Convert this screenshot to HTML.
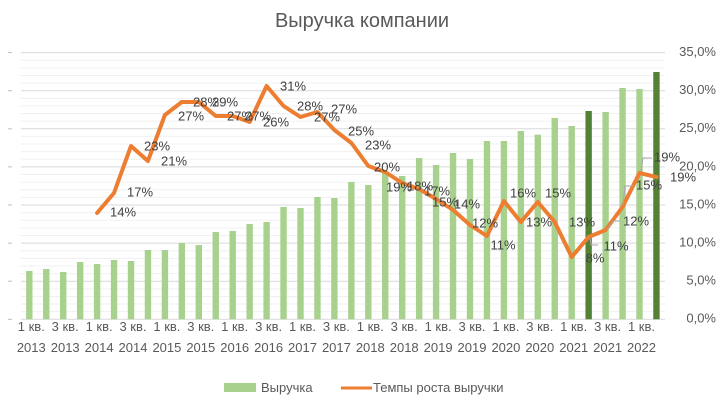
<!DOCTYPE html>
<html><head><meta charset="utf-8"><style>
html,body{margin:0;padding:0;background:#fff;}
svg{display:block;font-family:"Liberation Sans",sans-serif;}
</style></head><body>
<svg width="724" height="406" viewBox="0 0 724 406" xmlns="http://www.w3.org/2000/svg">
<rect width="724" height="406" fill="#fff"/>
<text x="362" y="27" text-anchor="middle" font-size="20" fill="#595959">Выручка компании</text>
<g id="grid"></g>
<g id="bars"></g>
<g id="line"></g>
<g id="labels" font-size="13" fill="#404040" text-anchor="middle" dominant-baseline="middle"></g>
<g font-size="13" fill="#595959" text-anchor="end" dominant-baseline="middle" id="yax"></g>
<g font-size="13" fill="#595959" text-anchor="middle" id="xax"></g>
<rect x="224" y="383" width="32" height="9" fill="#A9D18E"/>
<text x="261" y="392" font-size="13" fill="#595959">Выручка</text>
<line x1="341" y1="388" x2="372" y2="388" stroke="#ED7D31" stroke-width="3"/>
<text x="373" y="392" font-size="13" fill="#595959">Темпы роста выручки</text>
</svg>
<script>
var NS="http://www.w3.org/2000/svg";
function el(p,t,a,txt){var e=document.createElementNS(NS,t);for(var k in a)e.setAttribute(k,a[k]);if(txt!=null)e.textContent=txt;document.getElementById(p).appendChild(e);return e;}
var y0=319.3,s=7.62,xl=21,xr=665;
for(var p=0;p<=35;p++){var y=y0-s*p;var maj=p%5==0;
el("grid","line",{x1:xl,x2:xr,y1:y,y2:y,stroke:maj?"#D9D9D9":"#F0F0F0","stroke-width":1});
if(maj){el("yax","text",{x:716,y:y},(p)+",0%");el("grid","line",{x1:8,x2:12,y1:y,y2:y,stroke:"#BFBFBF","stroke-width":1});}}
var tops=[271,269,272,262,264,260,261,250,250,243,245,232,231,224,222,207,208,197,198,182,185,173,176,158,165,153,159,141,141,131,134.7,118,126,111,112,88,89,72];
function cx(i){return 29.3+16.95*i;}
tops.forEach(function(t,i){var dark=(i==33||i==37);el("bars","rect",{x:cx(i)-3.2,y:t,width:6.4,height:y0-t,fill:dark?"#548235":"#A9D18E"});});
var ly=[213,193,146,161,115,102,102,116,116,122,86,106,117,112,130,143,166,172,183,189,199,210,225,236,201,222,202,222,257,237,230,207,173,177];
var pts=ly.map(function(y,k){return cx(k+4).toFixed(1)+","+y;}).join(" ");
el("line","polyline",{points:pts,fill:"none",stroke:"#ED7D31","stroke-width":4,"stroke-linejoin":"round","stroke-linecap":"round"});
var leaders=[[590,238,591,245,598,245],[607,230,613,221,620,221],[623,205,625,186,634,186],[641,171,643,158,652,158]];
leaders.forEach(function(l){el("line","polyline",{points:l[0]+","+l[1]+" "+l[2]+","+l[3]+" "+l[4]+","+l[5],fill:"none",stroke:"#A6A6A6","stroke-width":1});});
var L=[["14%",123,213],["17%",140,193],["23%",157,147],["21%",174,162],["27%",191,117],["28%",206,103],["29%",225,103],["27%",240,117],["27%",258,117],["26%",276,123],["31%",293,87],["28%",310,107],["27%",327,118],["27%",344,110],["25%",361,132],["23%",378,146],["20%",387,168],["19%",399,188],["18%",420,187],["17%",437,192],["15%",445,203],["14%",467,205],["12%",485,224],["11%",503,246],["16%",523,194],["13%",539,223],["15%",558,194],["13%",582,223],["8%",595,259],["11%",616,247],["12%",636,222],["15%",649,186],["19%",667,158],["19%",683,178]];
L.forEach(function(l){el("labels","text",{x:l[1],y:l[2]},l[0]);});
for(var j=0;j<19;j++){var i=2*j;var q=(j%2==0)?"1 кв.":"3 кв.";var yr=2013+Math.floor(j/2);
el("xax","text",{x:cx(i)+2,y:331},q);el("xax","text",{x:cx(i)+2,y:352},""+yr);}
</script>
</body></html>
